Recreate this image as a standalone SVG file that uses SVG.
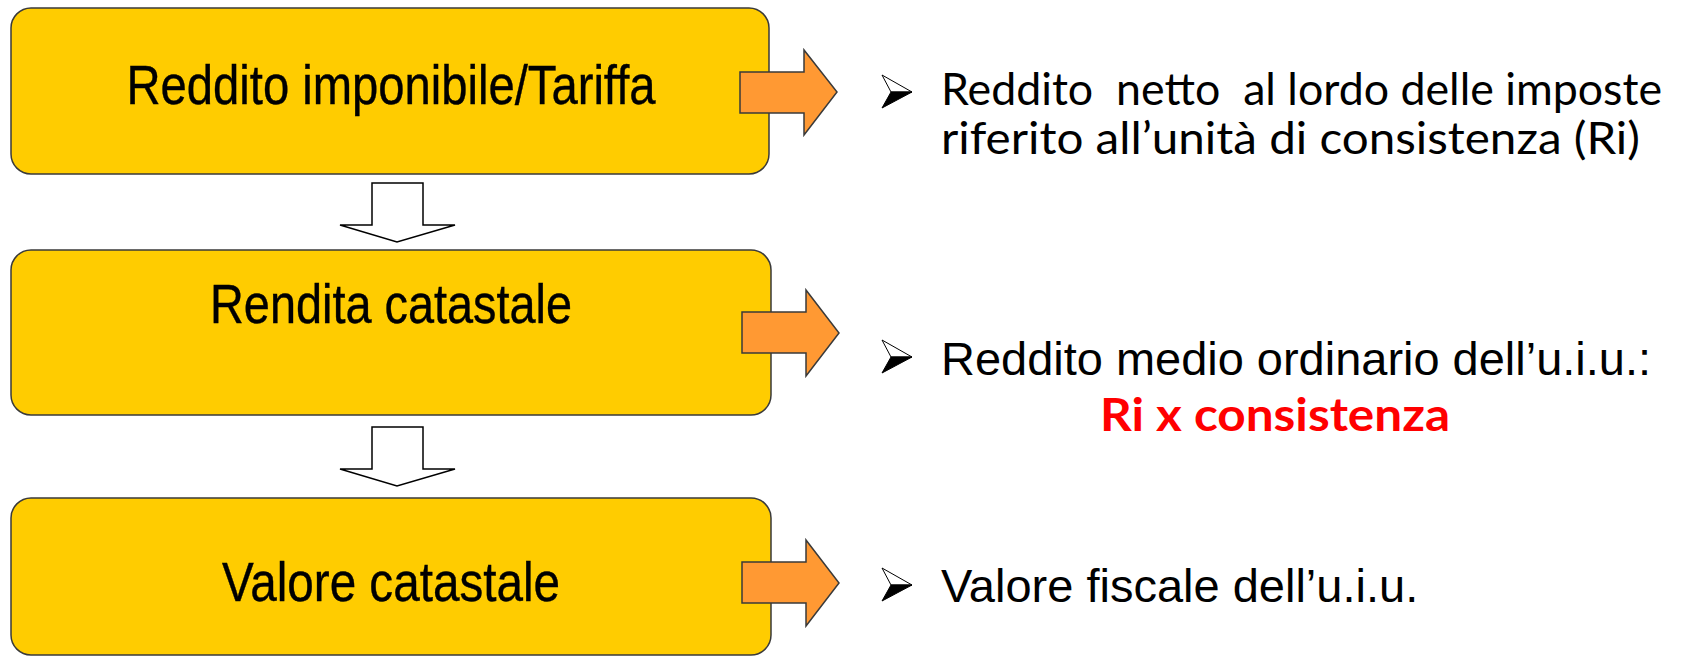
<svg xmlns="http://www.w3.org/2000/svg" width="1692" height="658" viewBox="0 0 1692 658">
  <style>
    .box { fill: #FFCC00; stroke: #3a3a3a; stroke-width: 1.5; }
    .out { fill: #FF9933; stroke: #3a3a3a; stroke-width: 1.5; stroke-linejoin: miter; }
    .down { fill: #FFFFFF; stroke: #000000; stroke-width: 1.5; }
    .btxt { font-family: "Liberation Sans", Arial, sans-serif; font-size: 55px; fill: #000; stroke: #000; stroke-width: 0.4; text-anchor: middle; }
    .atxt { font-family: "Liberation Sans", Arial, sans-serif; font-size: 47px; fill: #000; }
    .ctxt { font-family: Lato, "Open Sans", sans-serif; font-size: 45px; fill: #000; }
    .red { font-family: Lato, "Open Sans", sans-serif; font-size: 45px; font-weight: bold; fill: #FF0000; }
    .bw { fill: #FFFFFF; stroke: #000; stroke-width: 1; stroke-linejoin: miter; }
    .bb { fill: #000000; stroke: #000; stroke-width: 1; stroke-linejoin: miter; }
  </style>

  <g id="node-reddito-imponibile">
    <rect class="box" x="11" y="8" width="758" height="166" rx="20" ry="20"/>
    <text class="btxt" x="391" y="104" textLength="529" lengthAdjust="spacingAndGlyphs">Reddito imponibile/Tariffa</text>
  </g>
  <g id="node-rendita-catastale">
    <rect class="box" x="11" y="250" width="760" height="165" rx="20" ry="20"/>
    <text class="btxt" x="391" y="323" textLength="362" lengthAdjust="spacingAndGlyphs">Rendita catastale</text>
  </g>
  <g id="node-valore-catastale">
    <rect class="box" x="11" y="498" width="760" height="157" rx="20" ry="20"/>
    <text class="btxt" x="391" y="601" textLength="338" lengthAdjust="spacingAndGlyphs">Valore catastale</text>
  </g>

  <g id="connectors">
    <polygon class="down" points="372,183 423,183 423,225 455,225 397,242 340,225 372,225"/>
    <polygon class="down" points="372,427 423,427 423,469 455,469 397,486 340,469 372,469"/>
    <polygon class="out" points="740,72 804,72 804,50 837,92 804,135 804,113 740,113"/>
    <polygon class="out" points="742,312 806,312 806,290 839,333 806,376 806,353 742,353"/>
    <polygon class="out" points="742,562 806,562 806,540 839,583 806,626 806,603 742,603"/>
  </g>

  <g id="note-1">
    <g class="bullet">
      <polygon class="bw" points="882,75 912,92 891,92"/>
      <polygon class="bb" points="891,92 912,92 882,108"/>
    </g>
    <text class="ctxt" x="941" y="105" textLength="721" lengthAdjust="spacingAndGlyphs" xml:space="preserve">Reddito  netto  al lordo delle imposte</text>
    <text class="ctxt" x="941" y="154" textLength="699" lengthAdjust="spacingAndGlyphs">riferito all’unità di consistenza (Ri)</text>
  </g>
  <g id="note-2">
    <g class="bullet">
      <polygon class="bw" points="882,340 912,357 891,357"/>
      <polygon class="bb" points="891,357 912,357 882,373"/>
    </g>
    <text class="atxt" x="941" y="375" textLength="710" lengthAdjust="spacingAndGlyphs">Reddito medio ordinario dell’u.i.u.:</text>
    <text class="red" x="1100" y="431" textLength="350" lengthAdjust="spacingAndGlyphs">Ri x consistenza</text>
  </g>
  <g id="note-3">
    <g class="bullet">
      <polygon class="bw" points="882,568 912,585 891,585"/>
      <polygon class="bb" points="891,585 912,585 882,601"/>
    </g>
    <text class="atxt" x="941" y="602">Valore fiscale dell’u.i.u.</text>
  </g>
</svg>
